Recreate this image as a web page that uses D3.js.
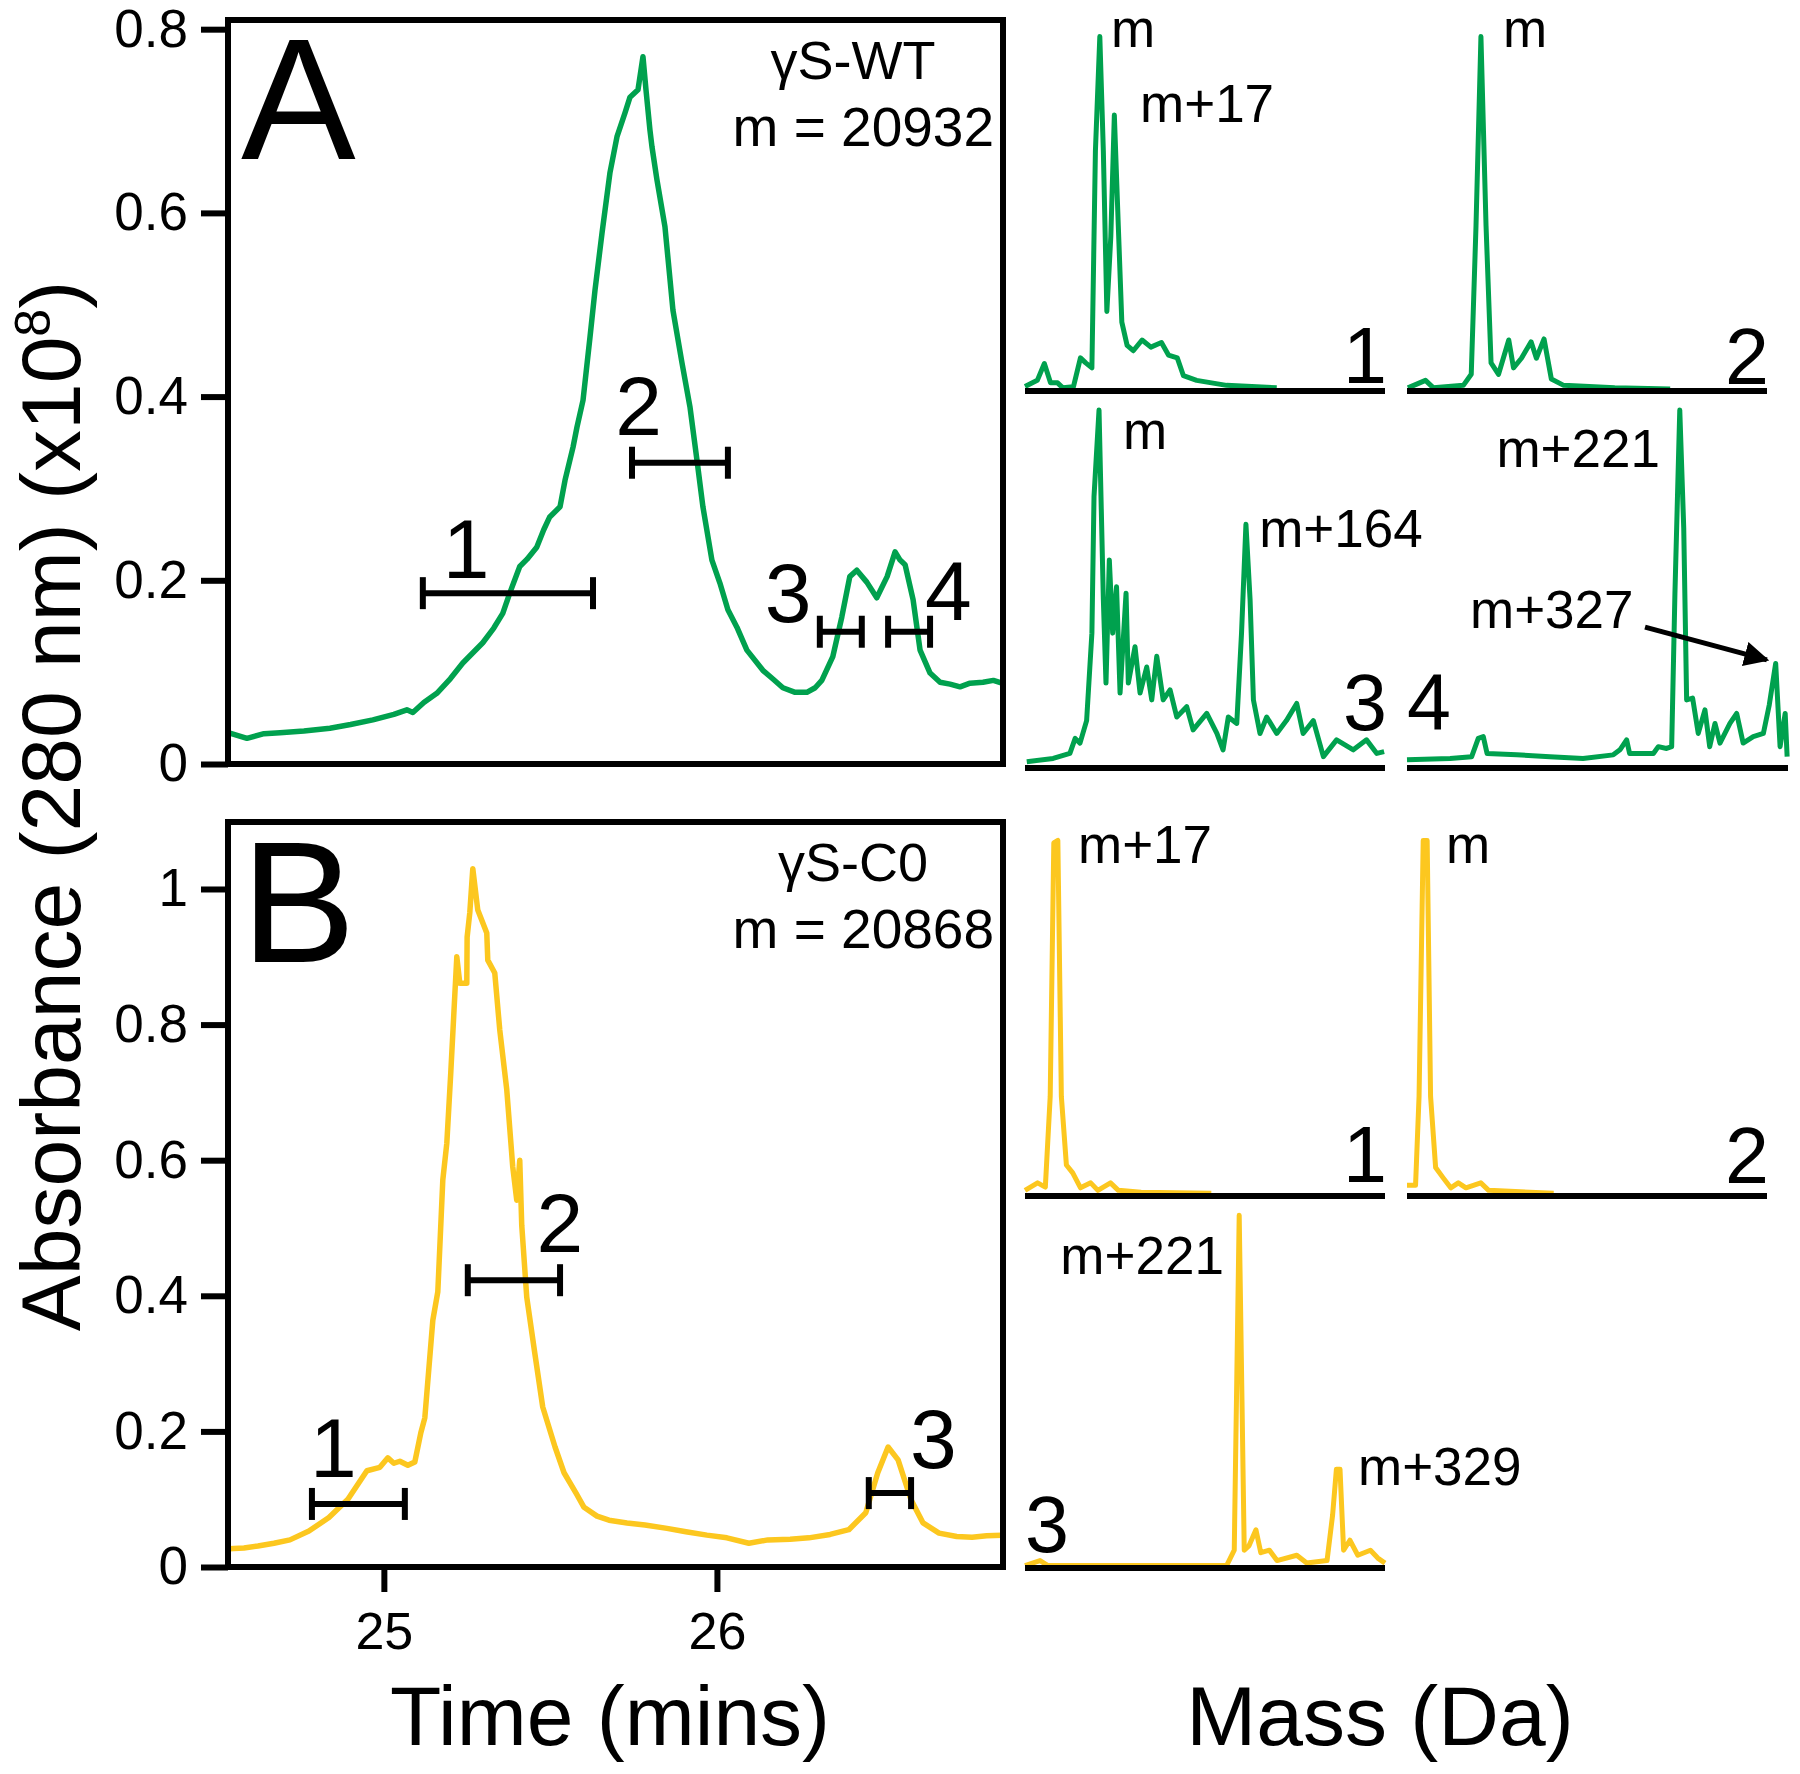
<!DOCTYPE html>
<html>
<head>
<meta charset="utf-8">
<script src="https://cdn.jsdelivr.net/npm/d3@7"></script>
<style>
  body { margin: 0; background: #fff; }
  svg { display: block; font-family: "Liberation Sans", Arial, Helvetica, sans-serif; }
</style>
</head>
<body>
<div id="chart"></div>
<script>
// ---- chromatograms: [time (mins), absorbance (x10^8)] ----
const traceWT = [[24.535,0.034],[24.589,0.028],[24.64,0.033],[24.688,0.034],[24.76,0.036],[24.838,0.039],[24.9,0.043],[24.967,0.048],[25.03,0.054],[25.069,0.059],[25.087,0.056],[25.12,0.067],[25.159,0.077],[25.2,0.093],[25.237,0.110],[25.297,0.132],[25.33,0.148],[25.357,0.164],[25.378,0.186],[25.408,0.215],[25.43,0.223],[25.459,0.236],[25.48,0.255],[25.498,0.269],[25.529,0.280],[25.544,0.309],[25.568,0.345],[25.58,0.367],[25.598,0.396],[25.619,0.465],[25.634,0.516],[25.655,0.578],[25.679,0.644],[25.7,0.683],[25.724,0.709],[25.739,0.726],[25.763,0.734],[25.778,0.770],[25.787,0.734],[25.799,0.690],[25.805,0.672],[25.82,0.636],[25.844,0.585],[25.868,0.494],[25.895,0.437],[25.919,0.389],[25.94,0.331],[25.958,0.280],[25.985,0.222],[26.009,0.197],[26.033,0.168],[26.06,0.149],[26.09,0.124],[26.138,0.102],[26.17,0.092],[26.198,0.083],[26.235,0.078],[26.27,0.078],[26.295,0.083],[26.315,0.091],[26.348,0.117],[26.375,0.160],[26.399,0.204],[26.42,0.211],[26.45,0.198],[26.48,0.181],[26.511,0.204],[26.535,0.231],[26.55,0.222],[26.565,0.217],[26.589,0.179],[26.61,0.124],[26.64,0.099],[26.67,0.089],[26.7,0.087],[26.73,0.084],[26.76,0.088],[26.799,0.089],[26.83,0.091],[26.856,0.088]];

const traceC0 = [[24.535,0.027],[24.58,0.028],[24.622,0.031],[24.67,0.035],[24.718,0.040],[24.775,0.053],[24.835,0.073],[24.892,0.100],[24.949,0.142],[24.988,0.147],[25.012,0.161],[25.03,0.153],[25.048,0.156],[25.072,0.150],[25.093,0.155],[25.111,0.198],[25.123,0.220],[25.147,0.364],[25.162,0.406],[25.177,0.571],[25.189,0.625],[25.201,0.730],[25.219,0.900],[25.228,0.861],[25.249,0.861],[25.25,0.929],[25.258,0.965],[25.267,1.030],[25.282,0.969],[25.309,0.935],[25.312,0.895],[25.333,0.876],[25.348,0.792],[25.369,0.704],[25.387,0.590],[25.399,0.541],[25.408,0.600],[25.414,0.504],[25.429,0.398],[25.453,0.316],[25.477,0.236],[25.514,0.177],[25.541,0.139],[25.577,0.109],[25.601,0.088],[25.64,0.075],[25.676,0.069],[25.73,0.065],[25.784,0.062],[25.85,0.057],[25.907,0.052],[25.97,0.047],[26.03,0.043],[26.096,0.035],[26.153,0.040],[26.22,0.041],[26.276,0.043],[26.34,0.048],[26.396,0.055],[26.447,0.080],[26.483,0.139],[26.514,0.177],[26.544,0.158],[26.583,0.099],[26.619,0.065],[26.667,0.050],[26.72,0.045],[26.766,0.044],[26.81,0.046],[26.856,0.047]];

// collected fractions: time range, bar level, label anchor [time, level]
const fracWT = [
  {id: "1", from: 25.117, to: 25.628, level: 0.186, label: [25.177, 0.2025]},
  {id: "2", from: 25.745, to: 26.033, level: 0.328, label: [25.695, 0.358]},
  {id: "3", from: 26.309, to: 26.435, level: 0.144, label: [26.144, 0.155]},
  {id: "4", from: 26.514, to: 26.640, level: 0.144, label: [26.625, 0.157]}
];
const fracC0 = [
  {id: "1", from: 24.784, to: 25.063, level: 0.093, label: [24.778, 0.133]},
  {id: "2", from: 25.252, to: 25.529, level: 0.423, label: [25.458, 0.465]},
  {id: "3", from: 26.456, to: 26.583, level: 0.109, label: [26.580, 0.146]}
];

const timeTicks = [25, 26];
const absTicksWT = [0, 0.2, 0.4, 0.6, 0.8];
const absTicksC0 = [0, 0.2, 0.4, 0.6, 0.8, 1];

// ---- deconvoluted mass spectra: [mass offset from m (Da), relative intensity %] ----
const msWT1 = [[-85,1],[-71,2.7],[-63,7.4],[-56,2],[-48,2],[-42,0.6],[-30,0.9],[-22,9],[-16,7.6],[-9,6.2],[-5,67],[0,99],[4,67],[8,22],[12.5,43],[16.5,77],[21,46],[25,19],[31,12.5],[38,11],[48,14],[58,12],[70,13.3],[78,9.8],[88,9],[95,4],[110,2.7],[144,1.3],[201,0.6]];
const msWT2 = [[-84,0.6],[-64,2.7],[-55,0.6],[-21,1.3],[-12,4.4],[-6.6,46],[-1,99],[4.8,46],[10.5,7.6],[19,4.4],[30.6,14],[36,6.2],[45,8.9],[56,13.5],[62,8.9],[70.7,14.3],[79,3.1],[93,1.3],[151,0.6],[214,0.3]];
const msWT3 = [[-83,1.5],[-53,2.4],[-34,3.8],[-28,8],[-22.5,6.7],[-15,13],[-9,37.5],[-6.6,75.7],[-0.9,100],[4,47],[7,23.5],[10.8,58],[14.6,37.5],[19,50.5],[23,20.7],[29.8,48.7],[32.4,23.5],[40,33.7],[45.7,20.7],[53.3,28],[59,18.8],[64.7,31],[72,18.8],[79.8,21.6],[87.4,14],[98.7,16.9],[106,10.4],[121.5,15],[133,9.4],[140,4.8],[146,14],[155.6,12.2],[161,37.5],[166,68],[170.7,47],[174.5,18.8],[182,9.4],[189.6,14],[201,9.4],[212,13],[223.7,17.8],[231,9.4],[242.6,13],[254,2.9],[269,7.6],[288,4.8],[303,7.6],[314.7,3.8],[323,4.3]];
const msWT4 = [[-85,2],[-36,2.4],[-11.5,2.9],[-4,8],[1.7,8.5],[6,3.8],[39.7,3.4],[77.5,2.9],[115,2.4],[149.4,3.4],[157,4.8],[164.6,7.6],[168,3.8],[195,3.8],[200.6,5.7],[210,5.2],[215.8,5.7],[219.5,48.7],[225,100],[229.5,67],[232.8,18.8],[239.6,19.3],[246,9.4],[253.6,16],[259,5.7],[265,12.2],[270.7,6.7],[282,12.2],[289.7,15],[297,6.7],[308.5,8.5],[320,9.4],[326.7,17.4],[334,29],[339,5.7],[344.8,15],[347,2.9]];
const msC01 = [[-18,1.3],[-4,3.4],[4.6,2.2],[10,27.6],[14,98.6],[18.5,99.3],[22.4,27.6],[28,8.4],[35,6.2],[43.7,2],[55,3.4],[63,1.3],[77,3.4],[85.7,1.3],[111,0.8],[189,0.5]];
const msC02 = [[-18,2.7],[-8.5,2.7],[-4.6,27.6],[0,99.3],[4.4,99.3],[8.2,27.6],[13.8,7.7],[22.2,4.8],[30.6,2],[39,3.4],[47.5,2],[64,3.4],[72.7,1.3],[145,0.5]];
const msC03 = [[-18,0.4],[-1.3,1.8],[7.5,0.4],[206,0.4],[214.5,4.7],[220,98.5],[225.6,4.7],[231,6],[238.6,10.4],[244,4],[253.6,4.7],[262,1.8],[284,3.3],[295,1.1],[317.6,1.8],[323.8,14.6],[328,27.4],[332,27.4],[336,4.7],[343,7.5],[351.8,3.3],[365.8,4.7],[374,2.5],[382,1.1]];

// peak annotations: [text, mass offset, intensity %, anchor]
const peaksWT1 = [["m", 12.7, 96, "start"], ["m+17", 45.7, 75, "start"]];
const peaksWT2 = [["m", 24, 96, "start"]];
const peaksWT3 = [["m", 26.4, 89, "start"], ["m+164", 181, 61.6, "start"]];
const peaksWT4 = [["m+221", 202.5, 84, "end"], ["m+327", -13.4, 39, "start"]];
const peaksC01 = [["m+17", 40.9, 93, "start"]];
const peaksC02 = [["m", 25.3, 93, "start"]];
const peaksC03 = [["m+221", 203, 82, "end"], ["m+329", 352, 23, "start"]];
const arrowWT4 = [[185.5, 39.2], [324, 30]];

const GREEN = "#00a14e", GOLD = "#fcc71f";

const svg = d3.select("#chart").append("svg")
    .attr("width", 1800)
    .attr("height", 1774);

svg.append("defs").append("marker")
    .attr("id", "head")
    .attr("viewBox", "0 0 10 10")
    .attr("refX", 9).attr("refY", 5)
    .attr("markerWidth", 5).attr("markerHeight", 5)
    .attr("markerUnits", "strokeWidth")
    .attr("orient", "auto")
    .append("path").attr("d", "M0,0 L10,5 L0,10 z").attr("fill", "#000");

const left = 228, right = 1003;
const x = d3.scaleLinear().domain([24.532, 26.859]).range([left, right]);
const yA = d3.scaleLinear().domain([0, 0.81]).range([764, 20]);
const yB = d3.scaleLinear().domain([0, 1.0988]).range([1567, 822]);

const fmt = d => d === 0 ? "0" : (d === 1 ? "1" : d.toFixed(1));

function chromPanel(y, ticks, trace, fracs, color, letter, letterBase, name, mass) {
    let g = svg.append("g");
    let top = y.range()[1], bottom = y.range()[0];

    g.append("path")
        .datum(trace)
        .attr("fill", "none")
        .attr("stroke", color)
        .attr("stroke-width", 5.5)
        .attr("stroke-linejoin", "round")
        .attr("d", d3.line().x(d => x(d[0])).y(d => y(d[1])));

    let ax = g.append("g")
        .attr("transform", `translate(${left},0)`)
        .call(d3.axisLeft(y).tickValues(ticks).tickFormat(fmt).tickSize(27).tickPadding(13));
    ax.select(".domain").remove();
    ax.selectAll(".tick line").attr("stroke", "#000").attr("stroke-width", 6);
    ax.selectAll(".tick text").attr("font-size", 53).attr("font-family", "Liberation Sans, Arial, sans-serif").attr("fill", "#000");

    g.append("rect")
        .attr("x", left).attr("y", top)
        .attr("width", right - left).attr("height", bottom - top)
        .attr("fill", "none").attr("stroke", "#000").attr("stroke-width", 6);

    // fraction bars
    let bars = g.selectAll(".frac").data(fracs).enter().append("g").attr("class", "frac");
    bars.append("line")
        .attr("x1", d => x(d.from)).attr("x2", d => x(d.to))
        .attr("y1", d => y(d.level)).attr("y2", d => y(d.level));
    bars.append("line")
        .attr("x1", d => x(d.from)).attr("x2", d => x(d.from))
        .attr("y1", d => y(d.level) - 16).attr("y2", d => y(d.level) + 16);
    bars.append("line")
        .attr("x1", d => x(d.to)).attr("x2", d => x(d.to))
        .attr("y1", d => y(d.level) - 16).attr("y2", d => y(d.level) + 16);
    bars.selectAll("line").attr("stroke", "#000").attr("stroke-width", 6);
    bars.append("text")
        .attr("x", d => x(d.label[0])).attr("y", d => y(d.label[1]))
        .attr("font-size", 84)
        .text(d => d.id);

    g.append("text")
        .attr("x", left + 13).attr("y", letterBase)
        .attr("font-size", 172)
        .text(letter);
    g.append("text")
        .attr("x", 853).attr("y", top + 59)
        .attr("text-anchor", "middle")
        .attr("font-size", 54)
        .text(name);
    g.append("text")
        .attr("x", 994).attr("y", top + 126)
        .attr("text-anchor", "end")
        .attr("font-size", 55)
        .text(mass);
    return g;
}

chromPanel(yA, absTicksWT, traceWT, fracWT, GREEN, "A", 159, "\u03b3S-WT", "m = 20932");
let gB = chromPanel(yB, absTicksC0, traceC0, fracC0, GOLD, "B", 962, "\u03b3S-C0", "m = 20868");

let xa = gB.append("g")
    .attr("transform", `translate(0,${yB(0)})`)
    .call(d3.axisBottom(x).tickValues(timeTicks).tickFormat(d3.format("d")).tickSize(25).tickPadding(20));
xa.select(".domain").remove();
xa.selectAll(".tick line").attr("stroke", "#000").attr("stroke-width", 6);
xa.selectAll(".tick text").attr("font-size", 52).attr("font-family", "Liberation Sans, Arial, sans-serif").attr("fill", "#000");

// axis titles
svg.append("text")
    .attr("x", 610).attr("y", 1745)
    .attr("text-anchor", "middle")
    .attr("font-size", 84)
    .text("Time (mins)");
svg.append("text")
    .attr("x", 1380).attr("y", 1745)
    .attr("text-anchor", "middle")
    .attr("font-size", 84)
    .text("Mass (Da)");

let ylab = svg.append("text")
    .attr("transform", "translate(80,806) rotate(-90)")
    .attr("text-anchor", "middle")
    .attr("font-size", 84);
ylab.append("tspan").text("Absorbance (280 nm) (x10");
ylab.append("tspan").attr("dy", -30).attr("font-size", 50).text("8");
ylab.append("tspan").attr("dy", 30).text(")");

// ---- mass spectra ----
const specA = [-85, 324], specB = [-18, 382];
const spectra = [
    {data: msWT1, peaks: peaksWT1, color: GREEN, dom: specA, x0: 1025, w: 360, base: 390, num: "1", numX: "end", numLift: 7},
    {data: msWT2, peaks: peaksWT2, color: GREEN, dom: specA, x0: 1407, w: 360, base: 390, num: "2", numX: "end", numLift: 6},
    {data: msWT3, peaks: peaksWT3, color: GREEN, dom: specA, x0: 1025, w: 360, base: 767, num: "3", numX: "end", numLift: 37},
    {data: msWT4, peaks: peaksWT4, color: GREEN, dom: [-85, 348], x0: 1407, w: 381, base: 767, num: "4", numX: "start", numLift: 38, arrow: arrowWT4},
    {data: msC01, peaks: peaksC01, color: GOLD, dom: specB, x0: 1025, w: 360, base: 1195, num: "1", numX: "end", numLift: 13},
    {data: msC02, peaks: peaksC02, color: GOLD, dom: specB, x0: 1407, w: 360, base: 1195, num: "2", numX: "end", numLift: 12},
    {data: msC03, peaks: peaksC03, color: GOLD, dom: specB, x0: 1025, w: 360, base: 1567, num: "3", numX: "start", numLift: 15}
];

spectra.forEach(s => {
    let sx = d3.scaleLinear().domain(s.dom).range([s.x0, s.x0 + s.w]);
    let sy = d3.scaleLinear().domain([0, 100]).range([s.base, s.base - 357]);
    let g = svg.append("g");

    g.append("path")
        .datum(s.data)
        .attr("fill", "none")
        .attr("stroke", s.color)
        .attr("stroke-width", 5)
        .attr("stroke-linejoin", "round")
        .attr("d", d3.line().x(d => sx(d[0])).y(d => sy(d[1])));

    g.append("line")
        .attr("x1", sx.range()[0]).attr("x2", sx.range()[1])
        .attr("y1", s.base + 1).attr("y2", s.base + 1)
        .attr("stroke", "#000").attr("stroke-width", 6);

    g.selectAll(".pk").data(s.peaks).enter().append("text")
        .attr("x", d => sx(d[1])).attr("y", d => sy(d[2]))
        .attr("text-anchor", d => d[3])
        .attr("font-size", 53)
        .text(d => d[0]);

    g.append("text")
        .attr("x", s.numX === "end" ? s.x0 + s.w + 2 : s.x0)
        .attr("y", s.base - s.numLift)
        .attr("text-anchor", s.numX)
        .attr("font-size", 79)
        .text(s.num);

    if (s.arrow) {
        g.append("line")
            .attr("x1", sx(s.arrow[0][0])).attr("y1", sy(s.arrow[0][1]))
            .attr("x2", sx(s.arrow[1][0])).attr("y2", sy(s.arrow[1][1]))
            .attr("stroke", "#000").attr("stroke-width", 5)
            .attr("marker-end", "url(#head)");
    }
});
</script>
</body>
</html>
